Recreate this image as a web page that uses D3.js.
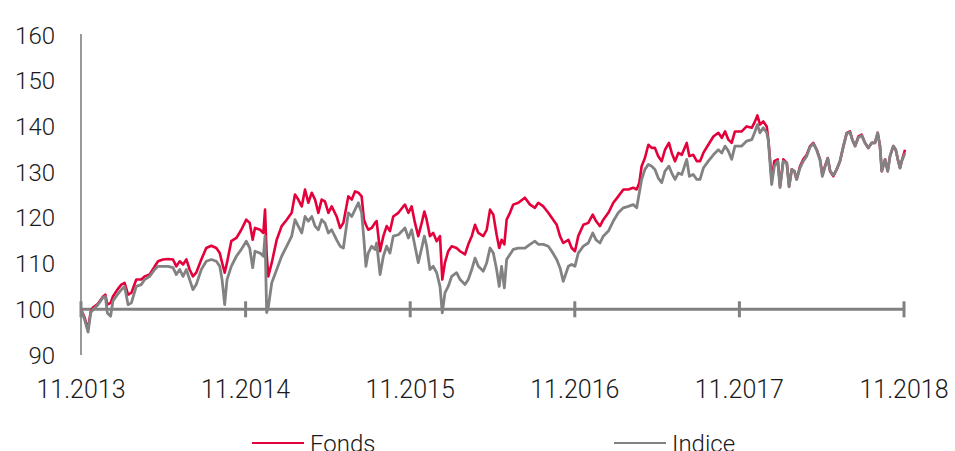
<!DOCTYPE html>
<meta charset="utf-8">
<style>
  body { margin: 0; background: #fff; }
  text { font-family: Roboto, "Liberation Sans", sans-serif; font-weight: 300; fill: #1a1a1a; }
  .line { fill: none; stroke-linejoin: round; }
</style>
<body>
<script src="https://cdn.jsdelivr.net/npm/d3@7"></script>
<script>
// years since 11.2013
var years = [0,0.022,0.043,0.059,0.073,0.103,0.134,0.148,0.160,0.180,0.194,0.221,0.245,0.265,0.286,0.306,0.336,0.366,0.387,0.417,
  0.448,0.468,0.498,0.529,0.559,0.579,0.600,0.620,0.640,0.660,0.680,0.700,0.731,0.761,0.792,0.822,0.843,0.857,0.873,0.887,
  0.913,0.944,0.974,1.004,1.025,1.043,1.057,1.088,1.108,1.118,1.128,1.138,1.159,1.189,1.219,1.250,1.280,1.300,1.320,1.341,
  1.361,1.381,1.402,1.422,1.442,1.462,1.482,1.503,1.523,1.553,1.574,1.594,1.624,1.645,1.665,1.685,1.705,1.719,1.731,1.745,
  1.766,1.786,1.796,1.817,1.837,1.857,1.877,1.897,1.928,1.958,1.968,1.989,2.009,2.029,2.049,2.070,2.086,2.100,2.120,2.140,
  2.161,2.181,2.195,2.211,2.231,2.252,2.282,2.303,2.333,2.353,2.374,2.394,2.414,2.444,2.465,2.485,2.505,2.525,2.541,2.555,
  2.572,2.586,2.606,2.626,2.657,2.697,2.728,2.758,2.778,2.809,2.839,2.860,2.890,2.910,2.930,2.961,2.981,3.001,3.021,3.052,
  3.082,3.109,3.129,3.153,3.173,3.204,3.234,3.264,3.295,3.325,3.355,3.376,3.392,3.406,3.426,3.447,3.467,3.487,3.507,3.528,
  3.548,3.572,3.589,3.609,3.629,3.650,3.680,3.696,3.720,3.741,3.761,3.781,3.811,3.842,3.872,3.893,3.913,3.933,3.953,3.973,
  4.014,4.044,4.075,4.095,4.109,4.125,4.145,4.166,4.176,4.186,4.196,4.212,4.233,4.247,4.267,4.288,4.302,4.318,4.334,4.348,
  4.368,4.388,4.409,4.429,4.449,4.470,4.490,4.504,4.520,4.537,4.551,4.571,4.591,4.611,4.632,4.652,4.672,4.686,4.703,4.723,
  4.743,4.763,4.783,4.804,4.824,4.840,4.854,4.865,4.885,4.901,4.915,4.935,4.950,4.965,4.976,4.986,5.006];

var fonds = [100,98.2,95.6,99.5,100.4,101.2,102.8,103.2,101.0,101.4,102.8,104.3,105.4,105.8,103.2,103.6,106.5,106.5,107.2,107.6,
  109.4,110.5,110.9,111.0,110.9,109.4,110.5,109.8,110.9,108.7,107.2,108.0,110.9,113.4,113.9,113.4,112.3,110.2,108.0,110.2,
  114.9,115.6,117.4,119.6,118.9,115.2,117.8,117.4,116.7,121.8,112.0,107.2,110.2,115.2,118.2,119.6,121.1,125.1,124.0,122.5,
  126.2,123.3,125.5,124.0,121.1,124.0,123.6,121.1,122.5,120.3,117.8,118.9,124.7,124.0,125.8,125.5,124.7,119.6,118.5,117.4,
  117.8,118.9,119.3,112.7,116.0,118.2,117.1,120.3,121.1,122.5,122.9,121.1,122.5,118.9,116.0,118.9,121.4,119.6,116.0,116.7,
  114.9,116.0,106.5,110.2,112.7,113.8,113.4,112.7,112.0,114.2,116.0,118.5,116.7,116.0,117.4,121.8,120.7,116.3,113.4,115.2,
  114.2,119.6,121.1,122.9,123.3,124.4,122.9,122.2,123.3,122.5,121.1,120.0,118.5,116.0,114.5,115.2,113.4,112.7,116.0,118.5,
  118.9,120.7,119.3,118.2,119.6,121.1,123.3,124.7,126.2,126.2,126.6,126.2,127.7,131.3,133.1,136.0,135.3,135.3,133.5,132.4,
  134.9,136.4,134.2,132.4,134.2,133.8,136.4,133.5,133.8,132.4,132.4,134.2,136.0,137.8,138.6,137.5,138.9,137.1,136.4,138.9,
  138.9,140.0,139.7,141.1,142.4,140.4,141.1,140.0,137.1,132.8,128.4,132.4,132.8,126.9,132.8,132.0,126.9,130.6,130.2,128.4,
  131.3,132.8,133.8,135.7,136.4,134.9,132.8,129.5,131.3,133.1,130.2,129.1,130.6,132.4,135.7,138.6,138.9,137.1,135.7,137.8,
  138.2,136.4,135.3,136.4,136.4,138.6,135.7,130.2,132.8,130.2,133.5,135.7,134.9,132.4,130.9,132.4,134.9];

var indice = [100,97.7,95.0,99.3,99.9,101.0,102.6,102.8,99.2,98.5,101.8,103.2,104.3,105.0,101.0,101.4,105.0,105.4,106.5,107.2,
  108.7,109.4,109.4,109.4,109.1,107.6,108.7,107.2,108.7,106.5,104.3,105.4,108.7,110.5,110.9,110.5,109.4,106.5,101.0,106.5,
  109.4,111.6,113.1,114.9,113.4,109.1,112.7,112.3,111.6,116.0,99.3,100.5,105.8,108.7,111.6,113.8,116.0,119.6,118.2,116.7,
  120.3,119.3,120.3,118.2,117.4,119.6,118.9,116.7,117.4,115.2,113.8,113.4,121.1,120.3,121.8,123.3,121.1,115.2,109.4,112.3,
  113.8,113.1,114.5,107.6,111.6,113.8,112.3,116.0,116.3,117.4,117.8,115.6,117.4,113.8,110.2,113.4,116.0,113.8,108.7,109.4,
  108.0,105.0,99.2,103.6,105.0,107.2,108.0,106.5,105.4,106.5,108.7,111.2,109.4,108.3,110.2,113.4,112.3,108.7,105.0,109.4,
  104.7,110.9,112.0,113.1,113.4,113.4,114.2,114.9,114.2,114.2,113.8,112.7,110.9,109.1,106.1,109.4,109.8,109.4,112.3,113.8,
  114.5,116.7,115.2,114.5,116.0,117.1,119.3,121.1,122.2,122.5,122.9,122.2,125.5,128.4,130.6,131.7,131.3,130.6,128.7,127.7,
  130.2,131.3,129.8,128.4,129.8,129.5,132.8,129.1,129.5,128.4,128.4,130.9,132.4,133.8,134.9,134.2,135.7,134.6,132.8,135.7,
  135.7,136.8,137.1,138.9,140.4,138.6,139.7,138.6,136.8,132.0,127.3,131.3,132.4,126.6,132.4,132.0,126.8,130.6,130.2,128.4,
  130.9,132.4,133.5,135.5,136.2,134.8,132.6,129.1,131.1,133.0,130.3,129.3,130.6,132.4,135.7,138.5,138.7,137.1,135.7,137.6,
  138.0,136.4,135.3,136.4,136.4,138.6,135.7,130.2,132.8,130.2,133.5,135.7,134.9,132.4,130.9,132.4,134.2];

var xTickLabels = ["11.2013", "11.2014", "11.2015", "11.2016", "11.2017", "11.2018"];
var yTicks = [90, 100, 110, 120, 130, 140, 150, 160];
var seriesNames = ["Fonds", "Indice"];

var width = 955, height = 451;
var margin = {top: 35, right: 51, bottom: 96, left: 81};

var colors = {Fonds: "#e4003a", Indice: "#828282"};

var svg = d3.select("body").append("svg")
    .attr("width", width)
    .attr("height", height);

var x = d3.scaleLinear()
    .domain([0, 5])
    .range([margin.left, width - margin.right]);

var y = d3.scaleLinear()
    .domain([90, 160])
    .range([height - margin.bottom, margin.top]);

// y axis: plain line + labels
svg.append("line")
    .attr("x1", x(0)).attr("x2", x(0))
    .attr("y1", y(160) - 1).attr("y2", y(90))
    .style("stroke", "#808080")
    .style("stroke-width", 1.6);

svg.append("g")
    .selectAll("text")
    .data(yTicks)
  .enter().append("text")
    .attr("x", 55)
    .attr("y", function(d) { return y(d); })
    .attr("dy", "0.36em")
    .attr("text-anchor", "end")
    .style("font-size", "24px")
    .text(function(d) { return d; });

// base line at 100 with year ticks
svg.append("line")
    .attr("x1", x(0)).attr("x2", x(5))
    .attr("y1", y(100)).attr("y2", y(100))
    .style("stroke", "#808080")
    .style("stroke-width", 3);

svg.append("g")
    .selectAll("line")
    .data(xTickLabels)
  .enter().append("line")
    .attr("x1", function(d, i) { return x(i); })
    .attr("x2", function(d, i) { return x(i); })
    .attr("y1", y(100) - 8)
    .attr("y2", y(100) + 8)
    .style("stroke", "#808080")
    .style("stroke-width", 3);

svg.append("g")
    .selectAll("text")
    .data(xTickLabels)
  .enter().append("text")
    .attr("x", function(d, i) { return x(i); })
    .attr("y", 389)
    .attr("dy", "0.36em")
    .attr("text-anchor", "middle")
    .style("font-size", "25px")
    .text(function(d) { return d; });

var line = d3.line()
    .x(function(d) { return x(d[0]); })
    .y(function(d) { return y(d[1]); });

var fondsData = years.map(function(t, i) { return [t, fonds[i]]; });
var indiceData = years.map(function(t, i) { return [t, indice[i]]; });

svg.append("path")
    .datum(fondsData)
    .attr("class", "line")
    .attr("d", line)
    .style("stroke", colors.Fonds)
    .style("stroke-width", 2.6);

svg.append("path")
    .datum(indiceData)
    .attr("class", "line")
    .attr("d", line)
    .style("stroke", colors.Indice)
    .style("stroke-width", 2.8);

// legend (cut by the bottom edge, as in the original)
var legendX = [252, 614];
var legend = svg.append("g")
    .selectAll("g")
    .data(seriesNames)
  .enter().append("g")
    .attr("transform", function(d, i) { return "translate(" + legendX[i] + ",443)"; });

legend.append("line")
    .attr("x1", 0).attr("x2", 52)
    .style("stroke", function(d) { return colors[d]; })
    .style("stroke-width", 2);

legend.append("text")
    .attr("x", 58)
    .attr("dy", "0.36em")
    .style("font-size", "24px")
    .text(function(d) { return d; });
</script>
</body>
</html>
